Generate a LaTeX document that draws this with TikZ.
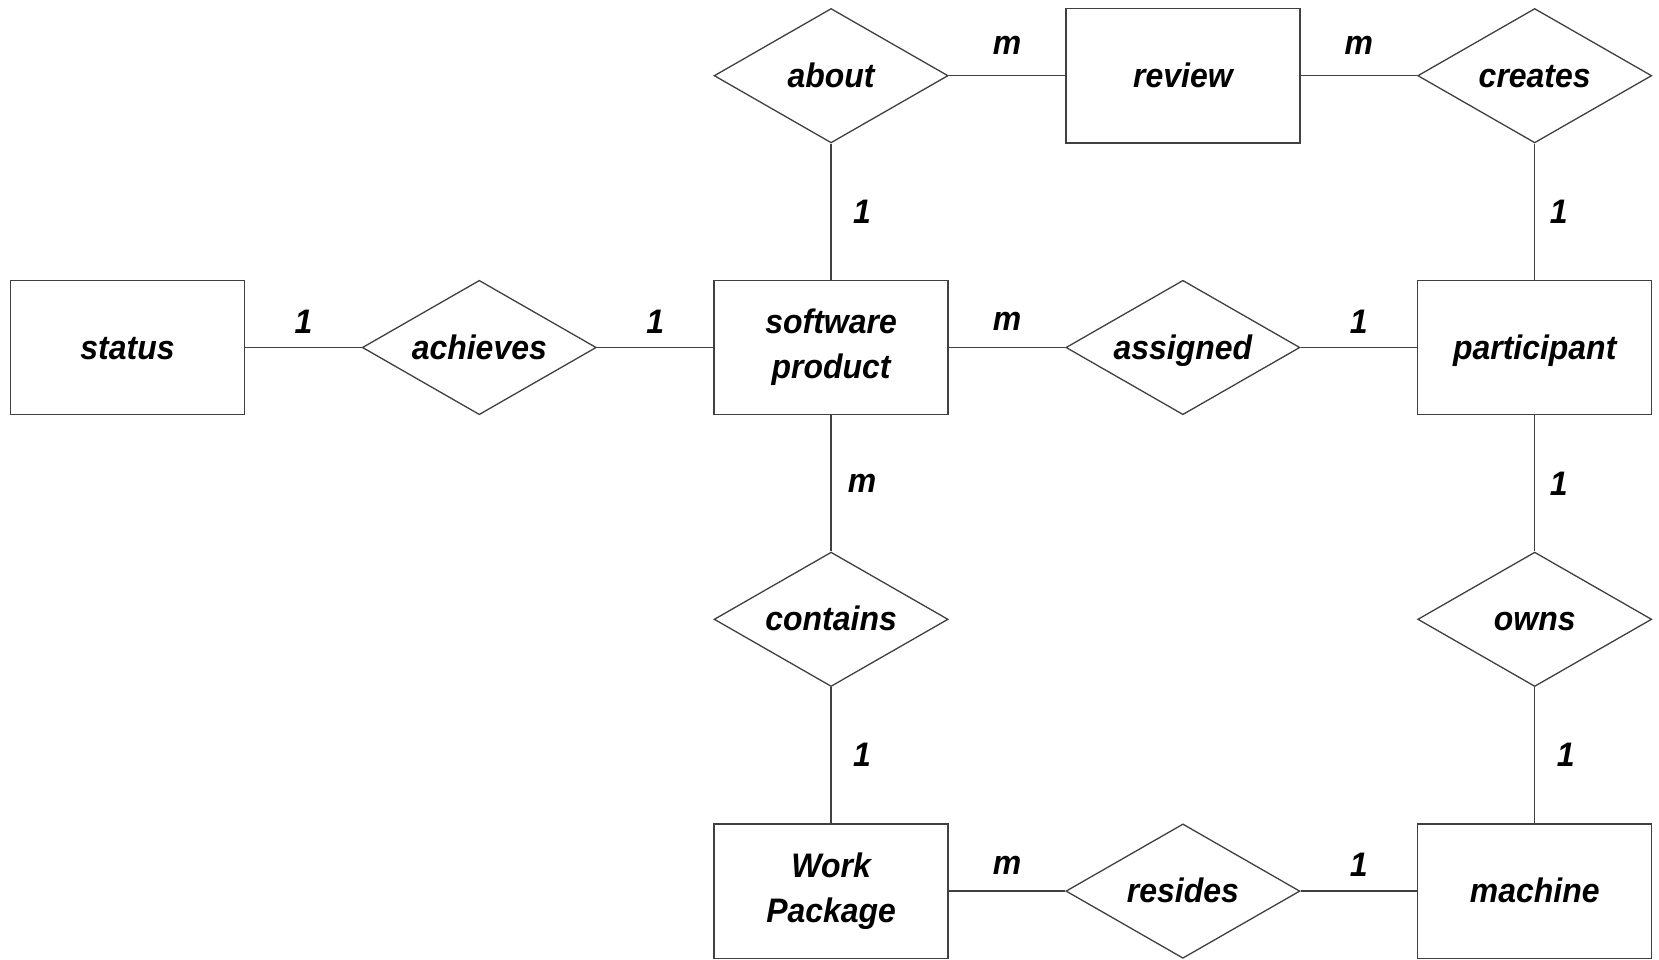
\documentclass[tikz,border=0pt]{standalone}
\usepackage{fontspec}
\setmainfont{Liberation Sans}[FakeStretch=0.94]
\usetikzlibrary{shapes.geometric}
\begin{document}
\begin{tikzpicture}[x=1pt,y=-1pt,
  every node/.style={font=\fontsize{34}{45}\selectfont\bfseries\itshape, text=black},
  shape base/.style={draw=black!75, line width=1.3pt, minimum width=234pt,
    minimum height=134.4pt, inner sep=0pt, align=center, fill=white},
  entity/.style={shape base, rectangle},
  relation/.style={shape base, diamond, shape aspect=1.74},
  oneline/.style={text height=23pt, text depth=0pt},
  twoline/.style={execute at begin node={\rule{0pt}{33pt}}},
  link/.style={draw=black!75, line width=1.3pt},
  card/.style={inner sep=0pt, midway}
]
\useasboundingbox[fill=white] (0,0) rectangle (1659,959);

% entities and relationships on a regular grid
\node[entity, oneline]   (status)      at (127.5,347.5)  {status};
\node[relation, oneline] (achieves)    at (479.3,347.5)  {achieves};
\node[entity, twoline]   (sw)          at (831.1,347.5)  {software\\product};
\node[relation, oneline] (assigned)    at (1182.9,347.5) {assigned};
\node[entity, oneline]   (participant) at (1534.7,347.5) {participant};

\node[relation, oneline] (about)       at (831.1,75.7)   {about};
\node[entity, oneline]   (review)      at (1182.9,75.7)  {review};
\node[relation, oneline] (creates)     at (1534.7,75.7)  {creates};

\node[relation, oneline] (contains)    at (831.1,619.3)  {contains};
\node[relation, oneline] (owns)        at (1534.7,619.3) {owns};

\node[entity, twoline]   (wp)          at (831.1,891.1)  {Work\\Package};
\node[relation, oneline] (resides)     at (1182.9,891.1) {resides};
\node[entity, oneline]   (machine)     at (1534.7,891.1) {machine};

% horizontal links with cardinalities above
\draw[link] (about)    -- node[card, yshift=30pt] {m} (review);
\draw[link] (review)   -- node[card, yshift=30pt] {m} (creates);
\draw[link] (status)   -- node[card, yshift=26pt] {1} (achieves);
\draw[link] (achieves) -- node[card, yshift=26pt] {1} (sw);
\draw[link] (sw)       -- node[card, yshift=26pt] {m} (assigned);
\draw[link] (assigned) -- node[card, yshift=26pt] {1} (participant);
\draw[link] (wp)       -- node[card, yshift=26pt] {m} (resides);
\draw[link] (resides)  -- node[card, yshift=26pt] {1} (machine);

% vertical links with cardinalities to the right
\draw[link] (about)       -- node[card, xshift=31pt] {1} (sw);
\draw[link] (sw)          -- node[card, xshift=31pt] {m} (contains);
\draw[link] (contains)    -- node[card, xshift=31pt] {1} (wp);
\draw[link] (creates)     -- node[card, xshift=24pt] {1} (participant);
\draw[link] (participant) -- node[card, xshift=24pt] {1} (owns);
\draw[link] (owns)        -- node[card, xshift=31pt] {1} (machine);
\end{tikzpicture}
\end{document}
